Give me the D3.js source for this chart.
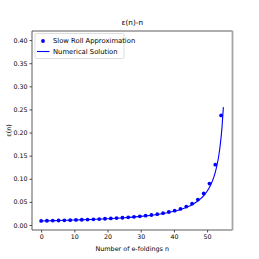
<!DOCTYPE html>
<html><head><meta charset="utf-8">
<script src="https://cdn.jsdelivr.net/npm/d3@7"></script>
<style>body{margin:0;background:#fff}svg{display:block}text{font-family:"DejaVu Sans",sans-serif;fill:#000}</style>
</head><body><svg id="c" width="259" height="259"></svg>
<script>
const title = "ε(n)-n";
const xLabel = "Number of e-foldings n";
const yLabel = "ε(n)";
const seriesNames = ["Slow Roll Approximation", "Numerical Solution"];
const xTicks = [0, 10, 20, 30, 40, 50];
const yTicks = [0.00, 0.05, 0.10, 0.15, 0.20, 0.25, 0.30, 0.35, 0.40];
// Slow roll approximation (dots)
const srN = [0,1.75,3.50,5.25,7.00,8.75,10.49,12.24,13.99,15.74,17.49,19.24,20.99,22.74,24.49,26.24,27.98,29.73,31.48,33.23,34.98,36.73,38.48,40.23,41.98,43.73,45.47,47.22,48.97,50.72,52.47,54.22];
const srEps = [0.0089,0.0092,0.0095,0.0098,0.0101,0.0105,0.0109,0.0114,0.0118,0.0123,0.0129,0.0135,0.0142,0.0149,0.0157,0.0166,0.0177,0.0188,0.0202,0.0217,0.0235,0.0256,0.0281,0.0311,0.0349,0.0398,0.0461,0.0550,0.0682,0.0896,0.1305,0.2370];
// Numerical solution (line)
const numN = [0,5,10,15,20,25,30,35,38,40,42,44,46,47,48,49,50,51,52,52.5,53,53.5,54,54.5,54.9];
const numEps = [0.0088,0.0096,0.0107,0.0120,0.0136,0.0157,0.0186,0.0229,0.0265,0.0297,0.0337,0.0389,0.0461,0.0508,0.0565,0.0637,0.0730,0.0855,0.1031,0.1149,0.1299,0.1493,0.1754,0.2128,0.2550];

const svg = d3.select("#c");
const L = 32, R = 232.5, T = 31, B = 230;
const x = d3.scaleLinear().domain([-2.75, 57.65]).range([L, R]);
const y = d3.scaleLinear().domain([-0.0108, 0.4197]).range([B, T]);

svg.append("g").attr("transform", `translate(0,${B})`)
  .call(d3.axisBottom(x).tickValues(xTicks).tickSize(2.5).tickPadding(2).tickFormat(d3.format("d")))
  .call(g => { g.select(".domain").remove(); g.selectAll("text").style("font-size","6.3px"); g.selectAll("line").attr("stroke","#000").attr("stroke-width",0.7); });
svg.append("g").attr("transform", `translate(${L},0)`)
  .call(d3.axisLeft(y).tickValues(yTicks).tickSize(2.5).tickPadding(2).tickFormat(d3.format(".2f")))
  .call(g => { g.select(".domain").remove(); g.selectAll("text").style("font-size","6.3px"); g.selectAll("line").attr("stroke","#000").attr("stroke-width",0.7); });

// spines
svg.append("line").attr("x1",L).attr("x2",R).attr("y1",T).attr("y2",T).attr("stroke","#333").attr("stroke-width",0.8);
svg.append("line").attr("x1",L).attr("x2",R).attr("y1",B).attr("y2",B).attr("stroke","#333").attr("stroke-width",0.8);
svg.append("line").attr("x1",L).attr("x2",L).attr("y1",T).attr("y2",B).attr("stroke","#333").attr("stroke-width",0.8);
svg.append("line").attr("x1",R).attr("x2",R).attr("y1",T).attr("y2",B).attr("stroke","#a6a6a6").attr("stroke-width",1.8);

const line = d3.line().x((d,i)=>x(numN[i])).y(d=>y(d)).curve(d3.curveMonotoneX);
svg.append("path").datum(numEps).attr("d", line).attr("fill","none").attr("stroke","#0000ff").attr("stroke-width",1.1);

svg.append("g").selectAll("circle").data(srEps).join("circle")
  .attr("cx",(d,i)=>x(srN[i])).attr("cy",d=>y(d)).attr("r",1.9).attr("fill","#0000ff");

// title & labels
svg.append("text").attr("x",(L+R)/2).attr("y",25).attr("text-anchor","middle").style("font-size","7.3px").text(title);
svg.append("text").attr("x",(L+R)/2).attr("y",251).attr("text-anchor","middle").style("font-size","6.4px").text(xLabel);
svg.append("text").attr("transform",`translate(11,${(T+B)/2}) rotate(-90)`).attr("text-anchor","middle").style("font-size","6.4px").text(yLabel);

// legend
const lg = svg.append("g");
lg.append("rect").attr("x",35).attr("y",33.5).attr("width",89).attr("height",25).attr("rx",1.5)
  .attr("fill","#fff").attr("fill-opacity",0.8).attr("stroke","#d0d0d0").attr("stroke-width",0.7);
lg.append("circle").attr("cx",43).attr("cy",41).attr("r",1.9).attr("fill","#0000ff");
lg.append("line").attr("x1",37).attr("x2",49.5).attr("y1",51.5).attr("y2",51.5).attr("stroke","#0000ff").attr("stroke-width",1.1);
lg.append("text").attr("x",53).attr("y",43.3).style("font-size","6.8px").text(seriesNames[0]);
lg.append("text").attr("x",53).attr("y",53.8).style("font-size","6.8px").text(seriesNames[1]);
</script></body></html>
